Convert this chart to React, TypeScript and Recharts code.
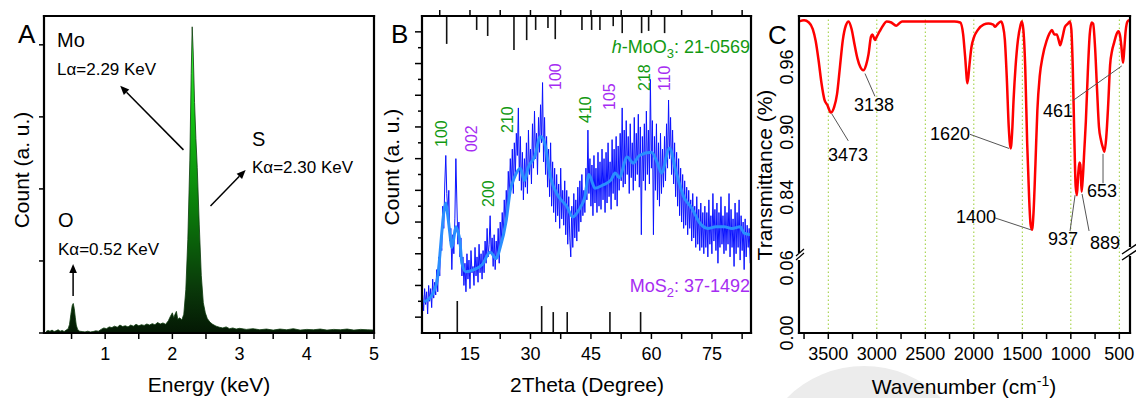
import { ComposedChart, Area, Line, XAxis, YAxis, ReferenceLine } from 'recharts';

const FONT = '"Liberation Sans", Arial, Helvetica, sans-serif';

// ---- A: EDS spectrum ----
const edsEnergy = [
  0.12, 0.15, 0.18, 0.21, 0.24, 0.27, 0.3, 0.33, 0.36, 0.39, 0.42, 0.45, 0.47, 0.49, 0.51, 0.525, 0.54, 0.555, 0.57, 0.59,
  0.62, 0.66, 0.7, 0.74, 0.78, 0.82, 0.86, 0.9, 0.94, 0.98, 1.02, 1.06, 1.1, 1.14, 1.18, 1.22, 1.26, 1.3, 1.34, 1.38,
  1.42, 1.46, 1.5, 1.54, 1.58, 1.62, 1.66, 1.7, 1.74, 1.78, 1.82, 1.86, 1.9, 1.94, 1.97, 2.0, 2.02, 2.04, 2.06, 2.08,
  2.11, 2.14, 2.17, 2.2, 2.23, 2.26, 2.28, 2.295, 2.31, 2.33, 2.35, 2.37, 2.4, 2.43, 2.46, 2.49, 2.52, 2.56, 2.6, 2.65,
  2.7, 2.75, 2.8, 2.85, 2.9, 2.95, 3.0, 3.1, 3.2, 3.3, 3.4, 3.5, 3.6, 3.7, 3.8, 3.9, 4.0, 4.1, 4.2, 4.3,
  4.4, 4.5, 4.6, 4.7, 4.8, 4.9, 5.0,
];
const edsCount = [
  20, 35, 25, 40, 20, 30, 45, 25, 35, 20, 40, 60, 120, 260, 380, 410, 340, 220, 110, 50,
  25, 20, 15, 25, 15, 20, 30, 25, 50, 70, 60, 85, 75, 95, 80, 110, 90, 100, 85, 110,
  95, 120, 100, 115, 105, 125, 110, 130, 115, 145, 125, 140, 120, 170, 230, 280, 210, 260, 300, 190,
  210, 180, 260, 600, 1300, 2400, 3600, 4250, 3900, 3200, 2700, 2300, 1500, 800, 420, 280, 200, 150, 120, 95,
  80, 70, 85, 60, 70, 55, 65, 50, 60, 45, 55, 40, 55, 45, 60, 40, 50, 45, 55, 40,
  50, 45, 55, 40, 50, 45, 40,
];
const edsEnergyTicks = [0.5, 1, 1.5, 2, 2.5, 3, 3.5, 4, 4.5, 5];
const edsCountTicks = [0, 1000, 2000, 3000, 4000];

// ---- B: XRD pattern ----
const xrdScanStart = 3.25;
const xrdScanStep = 0.25;
const xrdScanCounts = [
  12, 7, 14, 9, 13, 6, 15, 10, 14, 8, 17, 11, 16, 12, 20, 13, 24, 18, 30, 26,
  40, 33, 47, 56, 44, 38, 45, 29, 33, 20, 31, 25, 36, 55, 41, 28, 35, 24, 30, 18,
  24, 15, 22, 13, 25, 17, 23, 14, 26, 19, 21, 15, 27, 18, 24, 16, 28, 19, 25, 17,
  26, 19, 29, 22, 33, 24, 28, 37, 25, 30, 21, 31, 20, 29, 24, 33, 22, 35, 28, 38,
  30, 42, 34, 45, 37, 51, 43, 55, 46, 58, 44, 60, 50, 63, 56, 71, 48, 62, 45, 57,
  42, 55, 46, 60, 44, 64, 50, 58, 47, 66, 52, 70, 55, 63, 50, 68, 57, 72, 60, 79,
  54, 68, 50, 62, 46, 58, 43, 60, 40, 54, 38, 52, 35, 50, 37, 47, 33, 52, 36, 45,
  34, 48, 31, 45, 28, 43, 30, 24, 40, 27, 44, 30, 42, 29, 46, 32, 48, 35, 50, 37,
  45, 38, 52, 42, 64, 44, 55, 40, 53, 37, 56, 41, 52, 38, 57, 40, 54, 39, 58, 42,
  55, 38, 57, 41, 60, 43, 54, 39, 61, 44, 58, 42, 62, 40, 59, 45, 63, 48, 71, 46,
  64, 47, 67, 50, 62, 44, 66, 49, 60, 45, 68, 48, 63, 50, 69, 46, 65, 31, 62, 48,
  66, 45, 70, 50, 64, 47, 80, 52, 67, 31, 62, 45, 66, 42, 60, 40, 63, 44, 58, 46,
  62, 48, 66, 52, 73.5, 55, 68, 50, 64, 47, 60, 43, 57, 40, 55, 37, 52, 35, 50, 33,
  48, 34, 46, 31, 45, 33, 42, 29, 44, 30, 40, 27, 43, 28, 39, 26, 41, 27, 38, 25,
  40, 27, 38, 24, 42, 28, 37, 25, 44, 29, 39, 26, 41, 22, 38, 27, 43, 28, 37, 25,
  40, 26, 38, 28, 44, 24, 39, 27, 36, 21, 41, 25, 38, 27, 42, 23, 37, 26, 35, 20,
  36, 24, 34, 27, 33, 22,
];
const xrdSmoothAngle = [
  3.5, 5, 6, 7, 8, 8.5, 9, 9.5, 10, 10.5, 11, 11.5, 12, 12.5, 13, 14, 16, 18, 20, 21.5,
  22.5, 24, 25, 26, 27.5, 28.5, 29.5, 31, 32.5, 33.5, 35, 37, 39, 40.5, 42, 43.5, 44.5, 46, 48, 50,
  51, 52, 54, 55.5, 57, 60, 61.5, 62.5, 64.5, 66, 68, 70, 72, 74, 76, 78, 80, 82, 83, 84.6,
];
const xrdSmoothCount = [
  9.8, 11, 13, 17.7, 31.5, 38, 41, 37, 31.5, 27, 30, 33.5, 32, 29, 22, 19.3, 20, 21.5, 25.5, 23.5,
  27, 35.6, 45, 49, 52, 48, 52.4, 55.5, 62, 60, 49, 43, 40, 36.6, 38.8, 43, 50, 45.7, 46.7, 48.3,
  50.5, 49, 55.5, 53.6, 56, 57, 53.6, 50.5, 58.3, 51.4, 43, 39.4, 34.7, 33, 33.5, 33.5, 33, 33.5, 31.5, 31,
];
// reference patterns (JCPDS sticks)
const moo3Angle = [9.22, 16.66, 19.39, 25.91, 29.06, 31.29, 34.34, 36.15, 42.77, 45.18, 47.23, 50.53, 52.76, 57.57, 59.31, 63.27];
const moo3Intensity = [8.8, 4.4, 6.3, 10.7, 7.6, 4.4, 3.8, 7.3, 4.4, 4.4, 4.4, 3.2, 5.4, 5.4, 4.7, 5.4];
const mos2Angle = [11.85, 32.78, 35.65, 39.12, 49.71, 57.32];
const mos2Intensity = [10.1, 8.5, 6.6, 6.6, 6.6, 6.6];
const xrdAngleTicks = [7.5, 15, 22.5, 30, 37.5, 45, 52.5, 60, 67.5, 75, 82.5];
const xrdCountTicks = [0, 5, 10, 15, 20, 25, 30, 35, 40, 45, 50, 55, 60, 65, 70, 75, 80, 85, 90, 95];

// ---- C: FTIR ----
const ftirWavenumber = [
  3800, 3750, 3700, 3660, 3630, 3600, 3570, 3540, 3510, 3473, 3440, 3410, 3380, 3350, 3320, 3290, 3260, 3230, 3200, 3170,
  3138, 3110, 3085, 3060, 3045, 3020, 3000, 2970, 2930, 2900, 2850, 2800, 2770, 2740, 2600, 2400, 2200, 2140, 2110, 2090,
  2065, 2045, 2025, 2000, 1960, 1900, 1850, 1800, 1780, 1760, 1720, 1700, 1680, 1660, 1640, 1620, 1605, 1590, 1570, 1545,
  1520, 1505, 1490, 1470, 1450, 1430, 1415, 1400, 1385, 1365, 1345, 1320, 1290, 1250, 1220, 1195, 1170, 1145, 1120, 1110,
  1090, 1060, 1030, 1010, 995, 980, 965, 950, 937, 925, 912, 902, 889, 875, 860, 845, 825, 805, 785, 770,
  750, 730, 710, 690, 670, 653, 635, 615, 595, 575, 555, 530, 510, 495, 480, 470, 461, 450, 435, 415,
  400, 390,
];
const ftirTransmittance = [
  1.002, 1.003, 1.001, 0.995, 0.984, 0.966, 0.945, 0.93, 0.925, 0.918, 0.923, 0.935, 0.96, 0.985, 0.998, 1.002, 0.995, 0.981, 0.968, 0.96,
  0.957, 0.962, 0.972, 0.988, 0.99, 0.985, 0.988, 0.993, 0.999, 1.002, 1.001, 0.998, 1.0, 1.002, 1.002, 1.002, 1.002, 1.001, 0.99, 0.97,
  0.945, 0.962, 0.978, 0.987, 0.994, 0.999, 1.0, 0.999, 0.997, 0.999, 1.002, 0.998, 0.985, 0.95, 0.905, 0.885, 0.9, 0.93, 0.96, 0.985,
  0.998, 1.002, 0.995, 0.96, 0.89, 0.84, 0.815, 0.81, 0.825, 0.87, 0.92, 0.952, 0.97, 0.984, 0.991, 0.994, 0.99, 0.99, 0.983, 0.98,
  0.986, 0.997, 1.0, 1.002, 0.995, 0.96, 0.9, 0.85, 0.842, 0.86, 0.872, 0.87, 0.845, 0.86, 0.885, 0.91, 0.955, 0.99, 1.001, 1.0,
  0.978, 0.94, 0.905, 0.893, 0.886, 0.882, 0.895, 0.925, 0.962, 0.975, 0.982, 0.99, 0.993, 0.99, 0.98, 0.97, 0.964, 0.975, 0.993, 1.002,
  1.003, 1.003,
];
const ftirGridLines = [3500, 3000, 2500, 2000, 1500, 1000, 500];
const ftirWnTicks = [3750, 3500, 3250, 3000, 2750, 2500, 2250, 2000, 1750, 1500, 1250, 1000, 750, 500];
const ftirTTicks = [0, 0.06, 0.84, 0.9, 0.96];

// axis break: values above the break are shifted down so both parts share one scale
const BREAK = 0.07;
const SHIFT = 0.715;
const toBroken = (t: number) => (t > BREAK ? t - SHIFT : t);
const fromBroken = (d: number) => (d > BREAK ? d + SHIFT : d);

const edsData = edsEnergy.map((e, i) => ({ e, c: edsCount[i] }));
const xrdScan = xrdScanCounts.map((v, i) => ({ t: xrdScanStart + i * xrdScanStep, v }));
const xrdSmooth = xrdSmoothAngle.map((t, i) => ({ t, v: xrdSmoothCount[i] }));
const ftirData = ftirWavenumber.map((w, i) => ({ w, d: toBroken(ftirTransmittance[i]) }));

// annotation geometry (data coordinates)
const edsArrows = [
  [2.165, 2542, 1.224, 3431],
  [2.567, 1764, 3.09, 2264],
  [0.523, 514, 0.523, 958],
];
const ftirLeaders = [
  [3465, 0.917, 3294, 0.892],
  [3122, 0.954, 3019, 0.933],
  [2039, 0.898, 1637, 0.885],
  [1781, 0.821, 1410, 0.81],
  [956, 0.842, 1008, 0.809],
  [884, 0.843, 812, 0.809],
  [668, 0.88, 668, 0.853],
  [980, 0.929, 475, 0.961],
];

const GREEN = '#129912';
const PURPLE = '#a62cf2';
const PLOT_TOP = 16;
const PLOT_BOTTOM = 333;
const MARGIN = { top: PLOT_TOP, bottom: 20, left: 0 };

const arrowShape = (p: any) => {
  const { x1, y1, x2, y2 } = p;
  const a = Math.atan2(y2 - y1, x2 - x1);
  const L = 9;
  const W = 3.8;
  const bx = x2 - L * Math.cos(a);
  const by = y2 - L * Math.sin(a);
  const pts = `${x2},${y2} ${bx - W * Math.sin(a)},${by + W * Math.cos(a)} ${bx + W * Math.sin(a)},${by - W * Math.cos(a)}`;
  return (
    <g>
      <line x1={x1} y1={y1} x2={bx} y2={by} stroke="#000" strokeWidth={1.5} />
      <polygon points={pts} fill="#000" />
    </g>
  );
};

// bottom axis tick: outward mark, optional mirrored mark above the top edge, label
const bottomTick = (fmt: (v: number) => string, mirrorTop = false) => (p: any) => {
  const label = fmt(p.payload.value);
  return (
    <g>
      <line x1={p.x} y1={p.y} x2={p.x} y2={p.y + 6} stroke="#000" strokeWidth={1.5} />
      {mirrorTop && <line x1={p.x} y1={PLOT_TOP} x2={p.x} y2={PLOT_TOP - 6} stroke="#000" strokeWidth={1.5} />}
      {label !== '' && (
        <text x={p.x} y={p.y + 27} textAnchor="middle" fontSize={18} fontFamily={FONT} fill="#000">
          {label}
        </text>
      )}
    </g>
  );
};

const edsYTick = (p: any) => <line x1={p.x} y1={p.y} x2={p.x - 5} y2={p.y} stroke="#000" strokeWidth={1.5} />;

const xrdYTick = (p: any) => {
  const v = p.payload.value;
  if (v === 0) return <g />;
  const len = v % 10 === 5 ? 7 : 4;
  return <line x1={p.x} y1={p.y} x2={p.x - len} y2={p.y} stroke="#000" strokeWidth={1.5} />;
};

const ftirYTick = (p: any) => (
  <text
    x={p.x - 6}
    y={p.y}
    transform={`rotate(-90, ${p.x - 6}, ${p.y})`}
    textAnchor="middle"
    fontSize={18}
    fontFamily={FONT}
    fill="#000"
  >
    {fromBroken(p.payload.value).toFixed(2)}
  </text>
);

const axisCommon = { axisLine: false, tickLine: false, tickSize: 0, tickMargin: 0, interval: 0 as const, allowDataOverflow: true };

function EdsPanel() {
  return (
    <ComposedChart width={380} height={398} data={edsData} margin={{ ...MARGIN, right: 6 }}>
      <defs>
        <linearGradient id="edsFill" x1="0" y1="0" x2="0" y2="1">
          <stop offset="0%" stopColor="#3cff3c" />
          <stop offset="30%" stopColor="#12c012" />
          <stop offset="60%" stopColor="#0a7a0a" />
          <stop offset="85%" stopColor="#0a3a0a" />
          <stop offset="100%" stopColor="#041804" />
        </linearGradient>
      </defs>
      <XAxis
        {...axisCommon}
        type="number"
        dataKey="e"
        domain={[0.09, 5]}
        ticks={edsEnergyTicks}
        height={45}
        tick={bottomTick((v) => (Number.isInteger(v) ? String(v) : ''))}
      />
      <YAxis {...axisCommon} type="number" domain={[0, 4400]} ticks={edsCountTicks} width={44} tick={edsYTick} />
      <Area type="linear" dataKey="c" fill="url(#edsFill)" fillOpacity={1} stroke="#0d3a0d" strokeWidth={0.8} isAnimationActive={false} />
      {edsArrows.map((a, i) => (
        <ReferenceLine key={`ea-${i}`} segment={[{ x: a[0], y: a[1] }, { x: a[2], y: a[3] }]} shape={arrowShape} ifOverflow="visible" />
      ))}
    </ComposedChart>
  );
}

function XrdPanel() {
  return (
    <ComposedChart width={375} height={398} margin={{ ...MARGIN, right: 4 }}>
      <XAxis
        {...axisCommon}
        type="number"
        dataKey="t"
        domain={[3.1, 84.7]}
        ticks={xrdAngleTicks}
        height={45}
        tick={bottomTick((v) => (v % 15 === 0 ? String(v) : ''), true)}
      />
      <YAxis {...axisCommon} type="number" domain={[0, 100]} ticks={xrdCountTicks} width={42} tick={xrdYTick} />
      {moo3Angle.map((t, i) => (
        <ReferenceLine key={`mo-${i}`} segment={[{ x: t, y: 100 }, { x: t, y: 100 - moo3Intensity[i] }]} stroke="#111" strokeWidth={1.6} ifOverflow="visible" />
      ))}
      {mos2Angle.map((t, i) => (
        <ReferenceLine key={`ms-${i}`} segment={[{ x: t, y: 0 }, { x: t, y: mos2Intensity[i] }]} stroke="#111" strokeWidth={1.6} ifOverflow="visible" />
      ))}
      <Line data={xrdScan} type="linear" dataKey="v" stroke="#0a12ff" strokeWidth={1} dot={false} isAnimationActive={false} />
      <Line data={xrdSmooth} type="monotone" dataKey="v" stroke="#2a8eff" strokeWidth={3} dot={false} isAnimationActive={false} />
    </ComposedChart>
  );
}

function FtirPanel() {
  return (
    <ComposedChart width={381} height={398} data={ftirData} margin={{ ...MARGIN, right: 6 }}>
      <XAxis
        {...axisCommon}
        type="number"
        dataKey="w"
        reversed
        domain={[390, 3802]}
        ticks={ftirWnTicks}
        height={45}
        tick={bottomTick((v) => (v % 500 === 0 ? String(v) : ''))}
      />
      <YAxis {...axisCommon} type="number" domain={[0, 0.292]} ticks={ftirTTicks.map(toBroken)} width={44} tick={ftirYTick} />
      {ftirGridLines.map((w) => (
        <ReferenceLine key={`g-${w}`} x={w} stroke="#9acd32" strokeWidth={1} strokeDasharray="1.5 2.5" />
      ))}
      <Line type="monotone" dataKey="d" stroke="#ff0000" strokeWidth={2.5} dot={false} isAnimationActive={false} />
      {ftirLeaders.map((l, i) => (
        <ReferenceLine
          key={`ld-${i}`}
          segment={[{ x: l[0], y: toBroken(l[1]) }, { x: l[2], y: toBroken(l[3]) }]}
          stroke="#555"
          strokeWidth={1}
          ifOverflow="visible"
        />
      ))}
    </ComposedChart>
  );
}

const xrdPeakLabels = [
  { text: '100', color: GREEN, x: 447, y: 147 },
  { text: '002', color: PURPLE, x: 476.5, y: 152 },
  { text: '200', color: GREEN, x: 494, y: 207 },
  { text: '210', color: GREEN, x: 512.5, y: 133 },
  { text: '100', color: PURPLE, x: 561, y: 90 },
  { text: '410', color: GREEN, x: 590.5, y: 123 },
  { text: '105', color: PURPLE, x: 615, y: 110 },
  { text: '218', color: GREEN, x: 649.5, y: 91 },
  { text: '110', color: PURPLE, x: 670, y: 91 },
];

const ftirPeakLabels = [
  { text: '3473', x: 828, y: 161 },
  { text: '3138', x: 854, y: 111 },
  { text: '1620', x: 930, y: 140 },
  { text: '1400', x: 956, y: 223 },
  { text: '461', x: 1043, y: 117 },
  { text: '653', x: 1087, y: 197 },
  { text: '937', x: 1048, y: 245 },
  { text: '889', x: 1090, y: 249 },
];

// plot frames (page pixels): left and right edge of each panel's plot area
const frameEdges = [
  [44, 374],
  [422, 751],
  [799, 1130],
];

function Frame({ l, r }: { l: number; r: number }) {
  const s = { stroke: '#000', strokeWidth: 2.2, strokeLinecap: 'square' as const };
  return (
    <g>
      <line x1={l} y1={PLOT_TOP} x2={r} y2={PLOT_TOP} {...s} />
      <line x1={l} y1={PLOT_BOTTOM} x2={r} y2={PLOT_BOTTOM} {...s} />
      <line x1={l} y1={PLOT_TOP} x2={l} y2={PLOT_BOTTOM} {...s} />
      <line x1={r} y1={PLOT_TOP} x2={r} y2={PLOT_BOTTOM} {...s} />
    </g>
  );
}

function Overlay() {
  const t = { fontFamily: FONT, fill: '#000' };
  return (
    <svg width={1136} height={398} style={{ position: 'absolute', left: 0, top: 0, pointerEvents: 'none' }}>
      {frameEdges.map(([l, r], i) => (
        <Frame key={`fr-${i}`} l={l} r={r} />
      ))}

      {/* panel letters */}
      <text x={18} y={43} fontSize={26} {...t}>A</text>
      <text x={391} y={43} fontSize={26} {...t}>B</text>
      <text x={768} y={44} fontSize={26} {...t}>C</text>

      {/* axis titles */}
      <text x={209} y={392} fontSize={21} textAnchor="middle" {...t}>Energy (keV)</text>
      <text x={29} y={170} fontSize={21} textAnchor="middle" transform="rotate(-90, 29, 170)" {...t}>Count (a. u.)</text>
      <text x={587} y={392} fontSize={21} textAnchor="middle" {...t}>2Theta (Degree)</text>
      <text x={399} y={167} fontSize={21} textAnchor="middle" transform="rotate(-90, 399, 167)" {...t}>Count (a. u.)</text>
      <text x={964} y={394} fontSize={21} textAnchor="middle" {...t}>
        Wavenumber (cm<tspan fontSize={14} dy={-8}>-1</tspan><tspan dy={8}>)</tspan>
      </text>
      <text x={772} y={175} fontSize={21} textAnchor="middle" transform="rotate(-90, 772, 175)" {...t}>Transmittance (%)</text>

      {/* A annotations */}
      <text x={57} y={47} fontSize={20} {...t}>Mo</text>
      <text x={57} y={75} fontSize={17} {...t}>Lα=2.29 KeV</text>
      <text x={252} y={146} fontSize={20} {...t}>S</text>
      <text x={252} y={173} fontSize={17} {...t}>Kα=2.30 KeV</text>
      <text x={58} y={227} fontSize={20} {...t}>O</text>
      <text x={58} y={255} fontSize={17} {...t}>Kα=0.52 KeV</text>

      {/* B annotations */}
      {xrdPeakLabels.map((l, i) => (
        <text key={`xl-${i}`} x={l.x} y={l.y} fontSize={16} fontFamily={FONT} fill={l.color} transform={`rotate(-90, ${l.x}, ${l.y})`}>
          {l.text}
        </text>
      ))}
      <text x={750} y={53} fontSize={18} fontFamily={FONT} fill={GREEN} textAnchor="end">
        <tspan fontStyle="italic">h</tspan>-MoO<tspan fontSize={13} dy={5}>3</tspan><tspan dy={-5}>: 21-0569</tspan>
      </text>
      <text x={750} y={292} fontSize={18} fontFamily={FONT} fill={PURPLE} textAnchor="end">
        MoS<tspan fontSize={13} dy={5}>2</tspan><tspan dy={-5}>: 37-1492</tspan>
      </text>

      {/* C annotations */}
      {ftirPeakLabels.map((l, i) => (
        <text key={`fl-${i}`} x={l.x} y={l.y} fontSize={18} {...t}>
          {l.text}
        </text>
      ))}

      {/* axis break marks */}
      <rect x={797} y={253} width={6} height={7} fill="#fff" />
      <line x1={796} y1={260} x2={804} y2={253} stroke="#000" strokeWidth={1.2} />
      <line x1={796} y1={256} x2={804} y2={249} stroke="#000" strokeWidth={1.2} />
      <rect x={1127} y={247} width={7} height={9} fill="#fff" />
      <line x1={1122} y1={260} x2={1137} y2={250} stroke="#000" strokeWidth={1.4} />
      <line x1={1122} y1={254} x2={1137} y2={244} stroke="#000" strokeWidth={1.4} />
    </svg>
  );
}

export default function App() {
  return (
    <div style={{ position: 'absolute', left: 0, top: 0, width: 1136, height: 398, overflow: 'hidden', background: '#fff', fontFamily: FONT }}>
      <div style={{ position: 'absolute', left: 755, top: 366, width: 218, height: 218, borderRadius: '50%', background: '#ececec' }} />
      <div style={{ position: 'absolute', left: 0, top: 0 }}>
        <EdsPanel />
      </div>
      <div style={{ position: 'absolute', left: 380, top: 0 }}>
        <XrdPanel />
      </div>
      <div style={{ position: 'absolute', left: 755, top: 0 }}>
        <FtirPanel />
      </div>
      <Overlay />
    </div>
  );
}
